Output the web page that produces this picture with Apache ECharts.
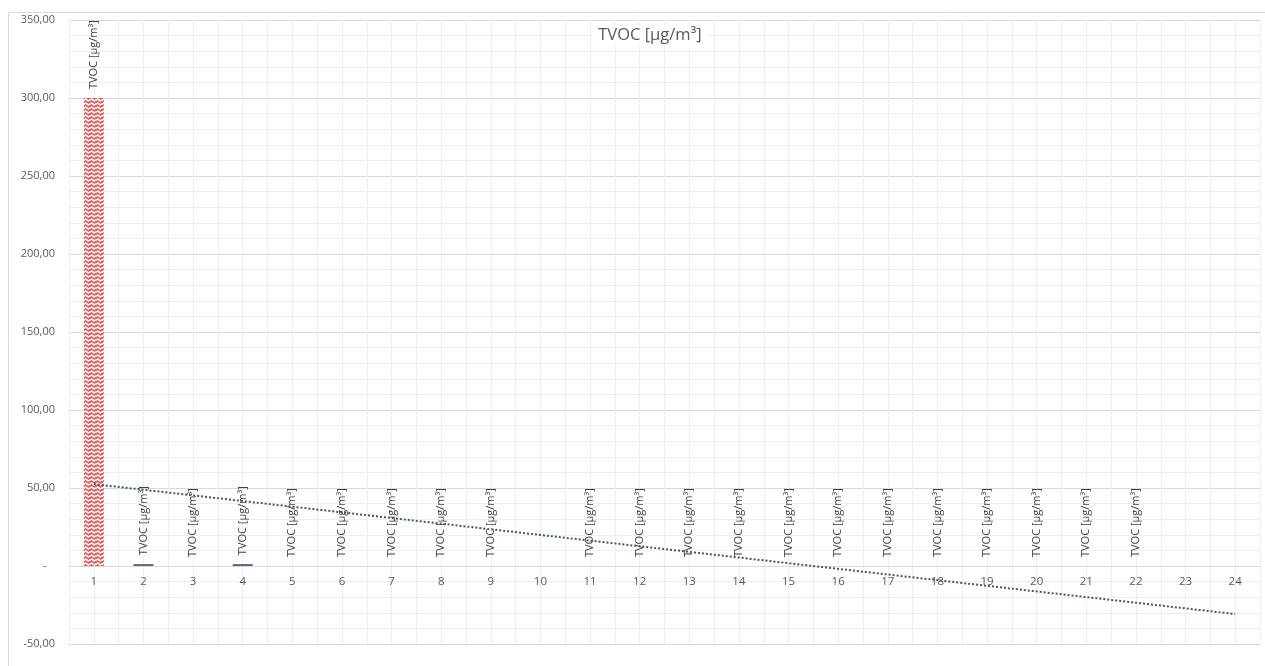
<!DOCTYPE html>
<html>
<head>
<meta charset="utf-8">
<title>TVOC</title>
<script src="https://cdn.jsdelivr.net/npm/echarts@6/dist/echarts.min.js"></script>
<style>
  html, body { margin: 0; padding: 0; background: #ffffff; }
  #chart { width: 1265px; height: 666px; }
</style>
</head>
<body>
<div id="chart"></div>
<script>
// Measurement points 1..24
const categories = ['1','2','3','4','5','6','7','8','9','10','11','12','13','14','15','16','17','18','19','20','21','22','23','24'];
// TVOC concentration per point, µg/m³ (null = no measurement)
const tvocValues = [300, 1.2, 0, 1.2, 0, 0, 0, 0, 0, null, 0, 0, 0, 0, 0, 0, 0, 0, 0, 0, 0, 0, null, null];
// Linear trend line, read at its two ends
const trendPoints = [['1', 52.5], ['24', -30.8]];
const seriesName = 'TVOC [µg/m³]';
const yTicks = { min: -50, max: 350, step: 50 };

const FONT = '"Open Sans", "Noto Sans", sans-serif';
const CHART_H = 666;
const GRID = { left: 69, right: 5, top: 20, bottom: 22 };
const plotH = CHART_H - GRID.top - GRID.bottom;
// lift the category axis from the plot bottom up to the zero line
const zeroOffset = -(0 - yTicks.min) / (yTicks.max - yTicks.min) * plotH;

// Red zig-zag hatch used on the first bar
function zigzagPattern() {
  const c = document.createElement('canvas');
  c.width = 6; c.height = 4;
  const g = c.getContext('2d');
  g.fillStyle = '#ffffff';
  g.fillRect(0, 0, 6, 4);
  g.strokeStyle = '#ee4848';
  g.lineWidth = 1.5;
  g.beginPath();
  g.moveTo(-0.5, 3);
  g.lineTo(1.5, 1);
  g.lineTo(4.5, 3);
  g.lineTo(6.5, 1);
  g.stroke();
  return c;
}

const barData = tvocValues.map((v, i) => {
  if (v === null) return null;
  if (i === 0) {
    return { value: v, itemStyle: { color: { image: zigzagPattern(), repeat: 'repeat' } } };
  }
  return { value: v, itemStyle: { color: '#4f6384' } };
});

function fmtY(v) {
  if (v === 0) return '-   ';
  return v.toFixed(2).replace('.', ',');
}

const chart = echarts.init(document.getElementById('chart'), null, { renderer: 'canvas' });

chart.setOption({
  animation: false,
  backgroundColor: '#ffffff',
  textStyle: { fontFamily: FONT },
  graphic: [{
    type: 'rect',
    shape: { x: 8.5, y: 12.5, width: 1300, height: 700 },
    style: { fill: 'none', stroke: '#d9d9d9', lineWidth: 1 },
    z: -10
  }],
  title: {
    text: seriesName,
    left: 644,
    top: 25,
    textAlign: 'center',
    backgroundColor: '#ffffff',
    padding: [2, 6],
    textStyle: { fontFamily: FONT, fontSize: 16.5, fontWeight: 'normal', color: '#595959' },
    z: 10
  },
  grid: [
    Object.assign({ containLabel: false }, GRID),
    Object.assign({ containLabel: false }, GRID)
  ],
  xAxis: [{
    type: 'category',
    gridIndex: 0,
    data: categories,
    offset: zeroOffset,
    axisLine: { onZero: false, lineStyle: { color: '#d9d9d9', width: 1 } },
    axisTick: { show: false },
    axisLabel: { color: '#595959', fontSize: 11.5, fontFamily: FONT, margin: 10 },
    splitLine: { show: false },
    z: 3
  }, {
    // helper axis in its own grid: vertical gridlines at every half category
    type: 'value',
    gridIndex: 1,
    min: 0,
    max: 48,
    interval: 1,
    axisLine: { show: false, onZero: false },
    axisTick: { show: false },
    axisLabel: { show: false },
    splitLine: { show: true, lineStyle: { color: '#eeeeee', width: 1 } },
    z: 0
  }],
  yAxis: [{
    type: 'value',
    gridIndex: 0,
    min: yTicks.min,
    max: yTicks.max,
    interval: yTicks.step,
    axisLine: { show: false, onZero: false },
    axisTick: { show: false },
    axisLabel: { color: '#595959', fontSize: 11, fontFamily: FONT, margin: 14, formatter: fmtY },
    splitLine: { show: true, lineStyle: { color: '#d9d9d9', width: 1 } },
    minorTick: { show: false, splitNumber: 5 },
    minorSplitLine: { show: true, lineStyle: { color: '#eeeeee', width: 1 } }
  }, {
    type: 'value',
    gridIndex: 1,
    min: 0,
    max: 1,
    show: false,
    axisLine: { show: false, onZero: false },
    splitLine: { show: false }
  }],
  series: [{
    name: seriesName,
    type: 'bar',
    xAxisIndex: 0,
    yAxisIndex: 0,
    barWidth: 20,
    data: barData,
    label: {
      show: true,
      position: 'top',
      rotate: 90,
      align: 'left',
      verticalAlign: 'middle',
      distance: 9,
      formatter: seriesName,
      color: '#404040',
      fontSize: 11,
      fontFamily: FONT
    },
    z: 2
  }, {
    name: 'trend',
    type: 'line',
    xAxisIndex: 0,
    yAxisIndex: 0,
    data: trendPoints,
    symbol: 'none',
    lineStyle: { color: '#44546a', width: 2, type: [2, 2] },
    z: 4
  }]
});
</script>
</body>
</html>
